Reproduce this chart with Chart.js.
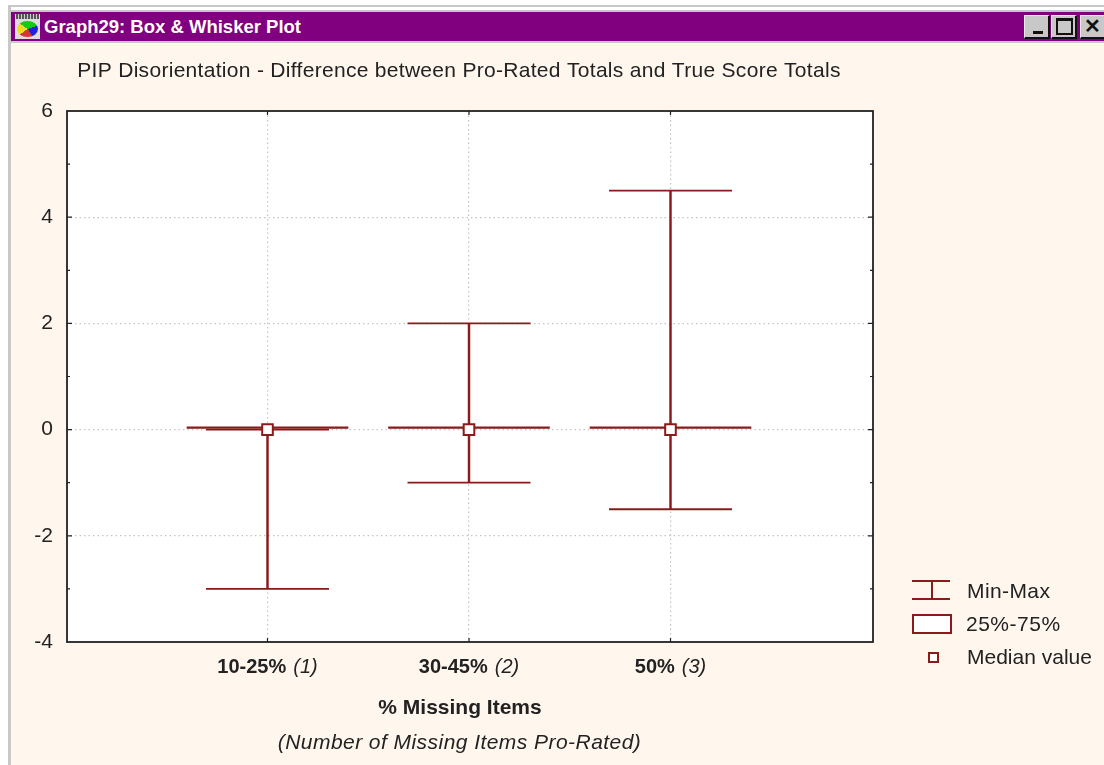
<!DOCTYPE html>
<html><head><meta charset="utf-8">
<script src="https://cdn.jsdelivr.net/npm/chart.js@4"></script>
<style>
html,body{margin:0;padding:0;background:#fff;overflow:hidden}
#win{position:absolute;left:0;top:0;width:1104px;height:765px;overflow:hidden;font-family:"Liberation Sans",Arial,sans-serif}
.abs{position:absolute}
canvas{position:absolute;left:0;top:0}
.btn{position:absolute;top:15px;height:24px;background:#c8c8c8;border-right:2px solid #111;border-bottom:2px solid #111;border-top:1px solid #eee;border-left:1px solid #eee;box-sizing:border-box;color:#111;text-align:center;font-weight:bold}
.lg{position:absolute;left:967px;font-size:21px;line-height:24px;color:#222;white-space:nowrap}
</style></head>
<body>
<div id="win">
  <div class="abs" style="left:8px;top:5px;width:1096px;height:2px;background:#c8c8c8"></div>
  <div class="abs" style="left:8px;top:10px;width:1096px;height:2px;background:#c8c8c8"></div>
  <div class="abs" style="left:8px;top:5px;width:3px;height:760px;background:#c8c8c8"></div>
  <div class="abs" style="left:11px;top:12px;width:1093px;height:753px;background:#fff6ee"></div>
  <div class="abs" style="left:11px;top:12px;width:1093px;height:29px;background:#800080"></div>
  <div class="abs" style="left:11px;top:41px;width:1093px;height:2px;background:#c8c8c8"></div>
  <div class="abs" style="left:15px;top:14px;width:25px;height:25px;background:#ddd"></div>
  <div class="abs" style="left:16px;top:14px;width:23px;height:5px;background:repeating-linear-gradient(90deg,#555 0 2px,#ccc 2px 3px)"></div>
  <div class="abs" style="left:17px;top:21px;width:21px;height:16px;border-radius:50%;background:conic-gradient(#1c1 0 20%,#22d 20% 40%,#d33 40% 65%,#ed2 65% 85%,#1c1 85%)"></div>
  <div class="abs" style="left:44px;top:15px;font-size:18.5px;line-height:24px;font-weight:bold;color:#fff;white-space:nowrap">Graph29: Box &amp; Whisker Plot</div>
  <div class="btn" style="left:1024px;width:26px"><span class="abs" style="left:8px;top:15px;width:10px;height:3px;background:#111"></span></div>
  <div class="btn" style="left:1051px;width:26px"><span class="abs" style="left:4px;top:2px;width:13px;height:12px;border:2px solid #111;border-top-width:3px"></span></div>
  <div class="btn" style="left:1080px;width:26px;font-size:20px;line-height:21px;text-align:left;padding-left:3px">✕</div>
  <canvas id="c" width="1104" height="765"></canvas>

  <div class="abs" style="left:912px;top:580px;width:38px;height:2px;background:#8b1a1a"></div>
  <div class="abs" style="left:912px;top:598px;width:38px;height:2px;background:#8b1a1a"></div>
  <div class="abs" style="left:931px;top:581px;width:2px;height:18px;background:#8b1a1a"></div>
  <div class="abs" style="left:912px;top:614px;width:40px;height:20px;box-sizing:border-box;border:2px solid #8b1a1a;background:#fff"></div>
  <div class="abs" style="left:928px;top:652px;width:11px;height:11px;box-sizing:border-box;border:2px solid #8b1a1a;background:#fff"></div>
  <div class="lg" style="top:579px;letter-spacing:.4px">Min-Max</div>
  <div class="lg" style="top:612px;left:966px;letter-spacing:.5px">25%-75%</div>
  <div class="lg" style="top:645px">Median value</div>
</div>
<script>
const chartTitle = 'PIP Disorientation - Difference between Pro-Rated Totals and True Score Totals';
const categories = ['10-25%', '30-45%', '50%'];
const categoryNotes = ['(1)', '(2)', '(3)'];
const xTitle = '% Missing Items';
const xSubtitle = '(Number of Missing Items Pro-Rated)';
const minValues = [-3, -1, -1.5];
const maxValues = [0, 2, 4.5];
const q1Values = [0.02, 0.02, 0.02];
const q3Values = [0.05, 0.05, 0.05];
const medianValues = [0, 0, 0];
const yLabels = [-4, -2, 0, 2, 4, 6];

const RED = '#8b1a1a';
const pad = a => [null, ...a, null];
const ranges = (lo, hi) => [null, ...lo.map((v, i) => [v, hi[i]]), null];

const frame = {
  id: 'frame',
  beforeDraw(ch) {
    const a = ch.chartArea, c = ch.ctx;
    c.save(); c.fillStyle = '#fff';
    c.fillRect(a.left, a.top, a.width + 1, a.height);
    c.restore();
  },
  afterDatasetsDraw(ch) {
    const a = ch.chartArea, c = ch.ctx, ys = ch.scales.y, xs = ch.scales.x;
    c.save();
    c.strokeStyle = '#222'; c.lineWidth = 1.8;
    c.strokeRect(a.left + 1, a.top, a.width, a.height);
    c.beginPath();
    ys.ticks.forEach(t => {
      const y = ys.getPixelForValue(t.value);
      if (t.value <= -4 || t.value >= 6) return;
      const len = t.value % 2 === 0 ? 5 : 3;
      c.moveTo(a.left + 1, y); c.lineTo(a.left + 1 + len, y);
      c.moveTo(a.right + 1, y); c.lineTo(a.right + 1 - len, y);
    });
    categories.forEach((_, i) => {
      const x = xs.getPixelForValue(i + 1);
      c.moveTo(x, a.top); c.lineTo(x, a.top + 4);
      c.moveTo(x, a.bottom); c.lineTo(x, a.bottom - 4);
    });
    c.lineWidth = 1.2; c.stroke();

    c.textBaseline = 'middle'; c.fillStyle = '#222';
    categories.forEach((cat, i) => {
      const cx = xs.getPixelForValue(i + 1);
      c.font = 'bold 20px "Liberation Sans"';
      const w1 = c.measureText(cat).width;
      c.font = 'italic 20px "Liberation Sans"';
      const note = categoryNotes[i], w2 = c.measureText(note).width, gap = 7;
      const x0 = cx - (w1 + gap + w2) / 2;
      c.textAlign = 'left';
      c.font = 'bold 20px "Liberation Sans"';
      c.fillText(cat, x0, 667);
      c.font = 'italic 20px "Liberation Sans"';
      c.fillText(note, x0 + w1 + gap, 667);
    });
    c.textAlign = 'center';
    c.font = 'bold 21px "Liberation Sans"';
    c.fillText(xTitle, 460, 708);
    c.font = 'italic 21px "Liberation Sans"';
    c.letterSpacing = '0.45px';
    c.fillText(xSubtitle, 459.5, 743);
    c.font = '21px "Liberation Sans"';
    c.letterSpacing = '0.3px';
    c.fillText(chartTitle, 459, 71);
    c.letterSpacing = '0px';
    c.restore();
  }
};

new Chart(document.getElementById('c'), {
  type: 'line',
  plugins: [frame],
  data: {
    labels: ['', ...categories, ''],
    datasets: [
      { type: 'bar', label: '25%-75%', data: ranges(q1Values, q3Values), backgroundColor: RED, barThickness: 161, grouped: false, order: 4 },
      { type: 'bar', label: 'Min-Max', data: ranges(minValues, maxValues), backgroundColor: RED, barThickness: 1.8, grouped: false, order: 3 },
      { label: 'Max', data: pad(maxValues), showLine: false, pointStyle: 'line', pointRadius: 61.5, pointBorderWidth: 1.8, pointBorderColor: RED, order: 2 },
      { label: 'Min', data: pad(minValues), showLine: false, pointStyle: 'line', pointRadius: 61.5, pointBorderWidth: 1.8, pointBorderColor: RED, order: 2 },
      { label: 'Median value', data: pad(medianValues), showLine: false, pointStyle: 'rect', pointRadius: 7.5, pointBorderWidth: 2, pointBorderColor: RED, pointBackgroundColor: '#fff', order: 1 }
    ]
  },
  options: {
    responsive: false,
    animation: false,
    layout: { padding: { left: 0, top: 111, right: 232, bottom: 0 } },
    plugins: { legend: { display: false }, tooltip: { enabled: false }, title: { display: false } },
    scales: {
      x: {
        type: 'category', offset: false,
        grid: { offset: false, color: c => (c.index === 0 || c.index === 4) ? 'transparent' : '#c4c4c4', drawTicks: false, lineWidth: 1.2 },
        border: { display: false, dash: [1.5, 3] },
        ticks: { display: false },
        afterFit(s) { s.height = 123; }
      },
      y: {
        min: -4, max: 6,
        afterFit(s) { s.width = 66; },
        grid: { color: c => (c.tick.value % 2 === 0 && c.tick.value > -4 && c.tick.value < 6) ? '#c4c4c4' : 'transparent', drawTicks: false, lineWidth: 1.2 },
        border: { display: false, dash: [1.5, 3] },
        ticks: {
          stepSize: 1, padding: 13, color: '#222',
          font: { family: '"Liberation Sans"', size: 21 },
          autoSkip: false,
          callback: v => yLabels.includes(v) ? String(v) : ''
        }
      }
    }
  }
});
</script>
</body></html>
